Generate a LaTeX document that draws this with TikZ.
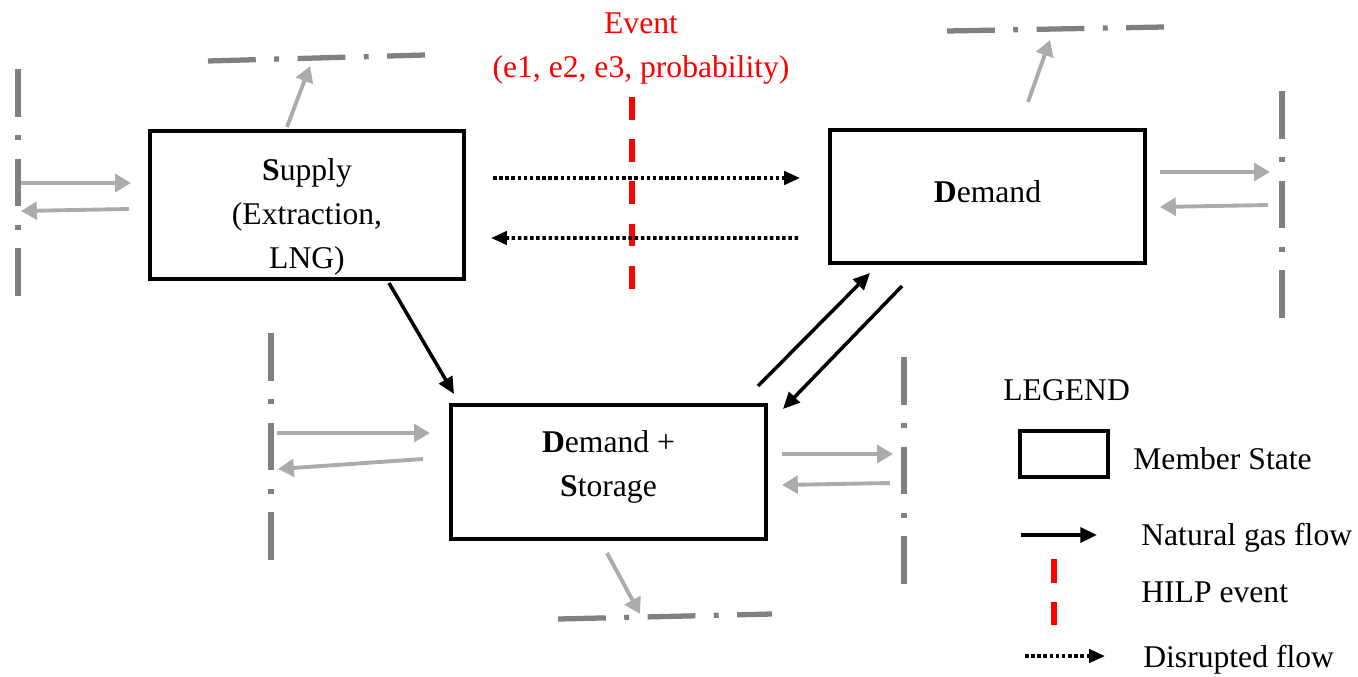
\documentclass[tikz,border=0pt]{standalone}
\usepackage{fontspec}
\setmainfont{Liberation Serif}
\usetikzlibrary{arrows.meta, positioning}
\definecolor{bordergray}{RGB}{128,128,128}
\definecolor{flowgray}{RGB}{172,170,170}

\begin{document}
\begin{tikzpicture}[x=0.02cm, y=-0.02cm,
    font=\fontsize{18}{25}\selectfont,
    msbox/.style={draw, line width=2.3pt, minimum width=6.3cm, align=center, inner sep=0pt},
    gasflow/.style={line width=2pt, -{Triangle[length=9.5pt, width=8.5pt]}},
    cutflow/.style={line width=2pt, dash pattern=on 2pt off 1.5pt, -{Triangle[length=9pt, width=7.5pt]}},
    xflow/.style={flowgray, line width=2.2pt, -{Triangle[length=9pt, width=10pt]}},
    border/.style={bordergray, line width=3pt, dash pattern=on 27.2pt off 10.5pt on 2.8pt off 10.5pt},
    hilp/.style={red, line width=3.4pt, dash pattern=on 13pt off 11pt},
    legtext/.style={anchor=base west, inner sep=0pt}]
  \useasboundingbox (0,0) rectangle (1358,676);

  % member states
  \node[msbox, minimum height=2.96cm] (sup) at (307,205) {\rule{0pt}{26pt}\textbf{S}upply\\(Extraction,\\LNG)};
  \node[msbox, minimum height=2.66cm] (dem) at (987.5,196.5) {\rule[-5.7pt]{0pt}{0pt}\textbf{D}emand};
  \node[msbox, minimum height=2.68cm] (ds) at (608.5,472) {\textbf{D}emand +\\\rule[-10pt]{0pt}{0pt}\textbf{S}torage};

  % event
  \node[red, align=center, inner sep=0pt] (event) at (641,49) {Event\\(e1, e2, e3, probability)};
  \coordinate (cut1) at (632,97);
  \coordinate (cut2) at (632,290);
  \draw[hilp] (cut1) -- (cut2);

  % borders
  \draw[border] (18,69) -- (18,297);
  \draw[border] (208,61) -- (425,55);
  \draw[border] (947,31) -- (1164,27);
  \draw[border] (1282,91) -- (1282,319);
  \draw[border] (271,333) -- (271,561);
  \draw[border] (904,357) -- (904,585);
  \draw[border] (558,619) -- (772,614);

  % flows between member states
  \draw[gasflow] ([shift={(82,2)}]sup.south) -- ([shift={(5,-9)}]ds.north west);
  \draw[gasflow] ([shift={(-10,-17)}]ds.north east) -- ([shift={(42,8)}]dem.south west);
  \draw[gasflow] ([shift={(74,21)}]dem.south west) -- ([shift={(15,6)}]ds.north east);
  \draw[cutflow] ([shift={(26.5,-27)}]sup.east) -- ([shift={(-28,-18.5)}]dem.west);
  \draw[cutflow] ([shift={(-30,41.5)}]dem.west) -- ([shift={(24.5,33)}]sup.east);

  % flows across borders
  \draw[xflow] ([shift={(-126.5,-22)}]sup.west) -- ([shift={(-16.5,-22)}]sup.west);
  \draw[xflow] ([shift={(-18.5,4)}]sup.west) -- ([shift={(-126.5,6)}]sup.west);
  \draw[xflow] ([shift={(-20,-2)}]sup.north) -- ([shift={(3,-63)}]sup.north);
  \draw[xflow] ([shift={(13,-24.5)}]dem.east) -- ([shift={(123,-24.5)}]dem.east);
  \draw[xflow] ([shift={(121,8.5)}]dem.east) -- ([shift={(13,10.5)}]dem.east);
  \draw[xflow] ([shift={(40.5,-26)}]dem.north) -- ([shift={(62.5,-88)}]dem.north);
  \draw[xflow] ([shift={(-172,-39)}]ds.west) -- ([shift={(-19,-39)}]ds.west);
  \draw[xflow] ([shift={(-26,-13)}]ds.west) -- ([shift={(-171,-3)}]ds.west);
  \draw[xflow] ([shift={(14,-18)}]ds.east) -- ([shift={(125,-18)}]ds.east);
  \draw[xflow] ([shift={(122,11)}]ds.east) -- ([shift={(14,13)}]ds.east);
  \draw[xflow] ([shift={(-1.5,12)}]ds.south) -- ([shift={(31.5,73)}]ds.south);

  % legend
  \node[legtext] (leg) at (1003,400) {LEGEND};
  \node[draw, line width=2.3pt, minimum width=1.76cm, minimum height=0.92cm] (legbox) at (1064,454) {};
  \node[legtext] (legms) at (1133,469) {Member State};
  \node[legtext] (legflow) at (1141,545) {Natural gas flow};
  \node[legtext] (leghilp) at (1141,602) {HILP event};
  \node[legtext] (legcut) at (1143,667) {Disrupted flow};
  \draw[gasflow] ([shift={(-120,-10)}]legflow.base west) -- ([shift={(-44,-10)}]legflow.base west);
  \draw[red, line width=3.4pt, dash pattern=on 13.5pt off 11pt] ([shift={(-87,-43)}]leghilp.base west) -- ([shift={(-87,23)}]leghilp.base west);
  \draw[cutflow] ([shift={(-118,-11)}]legcut.base west) -- ([shift={(-38,-11)}]legcut.base west);
\end{tikzpicture}
\end{document}
